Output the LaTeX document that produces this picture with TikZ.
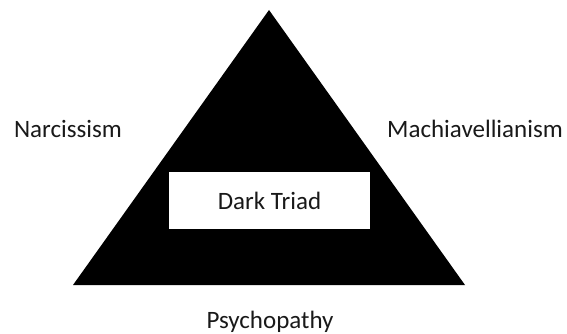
\documentclass[tikz,border=0pt]{standalone}
\usepackage{fontspec}
\setmainfont{Carlito}
\begin{document}
\begin{tikzpicture}[x=1pt,y=-1pt,
  lbl/.style={font=\fontsize{25}{30}\selectfont, inner sep=0pt, text=black!90}]
\useasboundingbox (0,0) rectangle (567,334);
\fill[black] (269,10) coordinate (apex) -- (465,285) coordinate (br) -- (73,285) coordinate (bl) -- cycle;
\node[fill=white, minimum width=201pt, minimum height=57pt, inner sep=0pt, lbl] (dt) at (269.5,200.5) {Dark Triad};
\node[lbl] (n) at (68,129) {Narcissism};
\node[lbl] (m) at (475,129) {Machiavellianism};
\node[lbl] (p) at (270,322) {Psychopathy};
\end{tikzpicture}
\end{document}
